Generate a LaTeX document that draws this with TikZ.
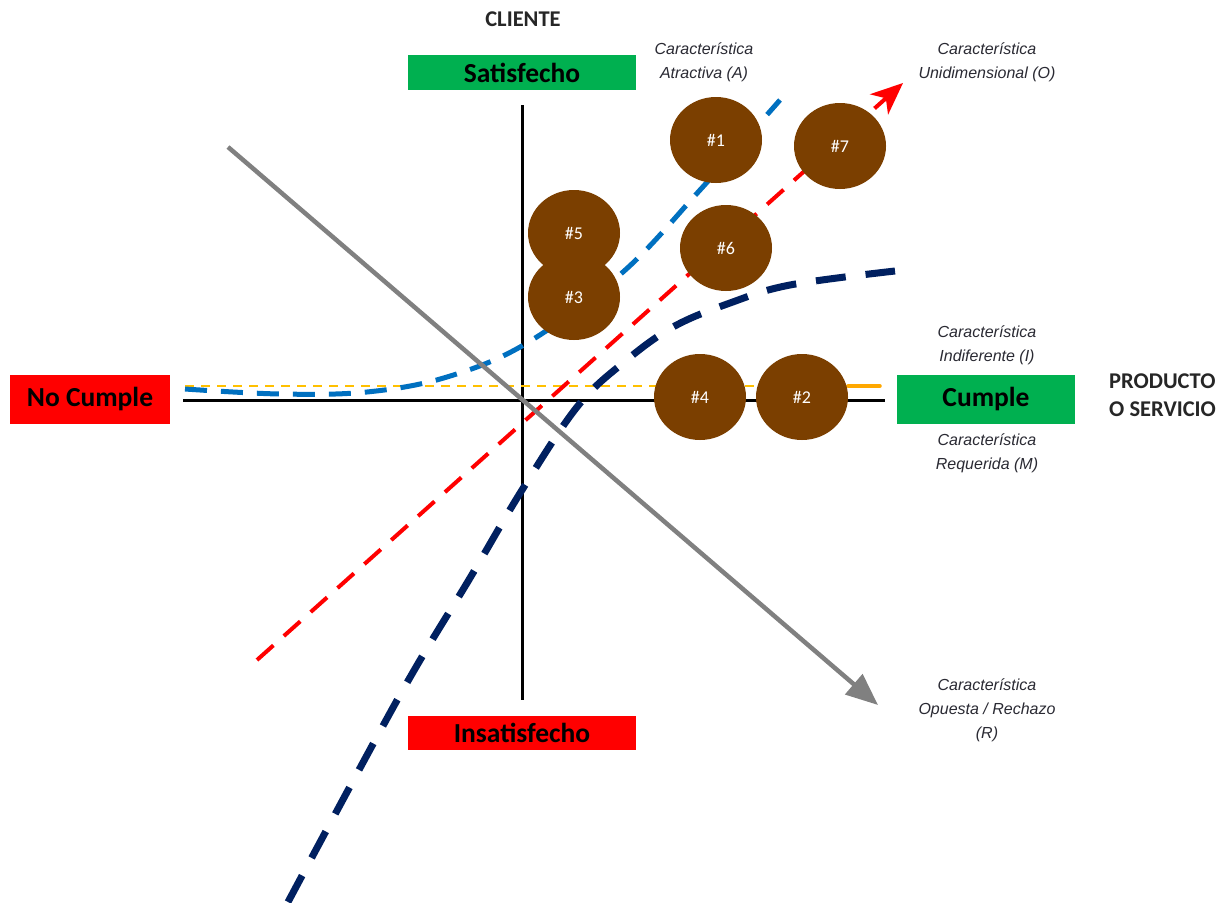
\documentclass[tikz,border=0pt]{standalone}
\usepackage{fontspec}
\setmainfont{Carlito}
\newfontfamily\labfont{Liberation Sans}
\usetikzlibrary{arrows.meta,shapes.geometric}
\definecolor{kgreen}{HTML}{00B050}
\definecolor{kred}{HTML}{FF0000}
\definecolor{kbrown}{HTML}{7B3F00}
\definecolor{knavy}{HTML}{002060}
\definecolor{kblue}{HTML}{0070C0}
\definecolor{kyellow}{HTML}{FFC000}
\definecolor{korange}{HTML}{FFA800}
\definecolor{kgray}{HTML}{808080}
\definecolor{ktext}{HTML}{2A2A33}
\tikzset{
  boxlabel/.style={inner sep=0pt, font=\bfseries\fontsize{27.5}{30}\selectfont, text=black},
  headlabel/.style={inner sep=0pt, font=\bfseries\fontsize{22.5}{28}\selectfont, text=black!85, align=left},
  charlabel/.style={inner sep=0pt, font=\labfont\itshape\fontsize{16}{24}\selectfont, text=ktext, align=center},
  dot/.style={shape=ellipse, fill=kbrown, minimum width=92pt, minimum height=86pt, inner sep=0pt,
    text=white, font=\fontsize{18}{20}\selectfont},
  axisline/.style={line width=3pt, black},
}
\begin{document}
\begin{tikzpicture}[x=1pt,y=-1pt]
\useasboundingbox (0,0) rectangle (1230,902);
\fill[white] (0,0) rectangle (1230,902);

% coordinates
\coordinate (vt) at (522,105);
\coordinate (vb) at (522,700);
\coordinate (hl) at (183,400);
\coordinate (hr) at (885,400);
\coordinate (ys) at (185,386);
\coordinate (ym) at (848,386);
\coordinate (ye) at (880,386);
\coordinate (rs) at (257,660);
\coordinate (re) at (903,83);
\coordinate (gs) at (228,147);
\coordinate (ge) at (878,705);

% axes
\draw[axisline] (vt) -- (vb);
\draw[axisline] (hl) -- (hr);

% indifferent (yellow)
\draw[kyellow, line width=2pt, dash pattern=on 9pt off 7pt] (ys) -- (ym);
\draw[korange, line width=3.5pt, line cap=round] (ym) -- (ye);

% attractive (blue)
\draw[kblue, line width=5pt, dash pattern=on 22pt off 14pt]
  plot[smooth, tension=0.6] coordinates {(185,389) (280,394) (367,392) (447,377) (527,343) (623,272) (700,190) (780,100)};

% required (navy)
\draw[knavy, line width=7pt, dash pattern=on 30pt off 20pt]
  plot[smooth, tension=0.6] coordinates {(288,902) (400,695) (470,578) (522,490) (577,407) (623,363) (673,327) (730,303) (790,285) (895,271)};

% one-dimensional (red)
\draw[kred, line width=4pt, dash pattern=on 22pt off 14pt, -{Stealth[length=32pt,width=27pt,inset=9pt]}] (rs) -- (re);

% reverse (gray)
\draw[kgray, line width=4.5pt, -{Triangle[length=32pt,width=26pt]}] (gs) -- (ge);

% boxes
\node[boxlabel, fill=kgreen, minimum width=228pt, minimum height=35pt] (sat) at (522,72.5) {Satisfecho};
\node[boxlabel, fill=kred, minimum width=228pt, minimum height=34pt] (insat) at (522,733) {Insatisfecho};
\node[boxlabel, fill=kred, minimum width=160pt, minimum height=49pt] (nocum) at (90,399.5) {No Cumple};
\node[boxlabel, fill=kgreen, minimum width=178pt, minimum height=49pt] (cum) at (986,399.5) {Cumple};

% headings
\node[headlabel] (cli) at (523,19) {CLIENTE};
\node[headlabel, anchor=west] (prod) at (1109,395) {PRODUCTO\\O SERVICIO};

% characteristic labels
\node[charlabel] (lA) at (704,62) {Característica\\Atractiva (A)};
\node[charlabel] (lO) at (987,62) {Característica\\Unidimensional (O)};
\node[charlabel] (lI) at (987,345) {Característica\\Indiferente (I)};
\node[charlabel] (lM) at (987,453) {Característica\\Requerida (M)};
\node[charlabel] (lR) at (987,710) {Característica\\Opuesta / Rechazo\\(R)};

% dots
\node[dot] (d1) at (716,140) {\#1};
\node[dot] (d7) at (840,146) {\#7};
\node[dot] (d6) at (726,248) {\#6};
\node[dot] (d5) at (574,233) {\#5};
\node[dot] (d3) at (574,297) {\#3};
\node[dot] (d4) at (700,397) {\#4};
\node[dot] (d2) at (802,397) {\#2};
\end{tikzpicture}
\end{document}
